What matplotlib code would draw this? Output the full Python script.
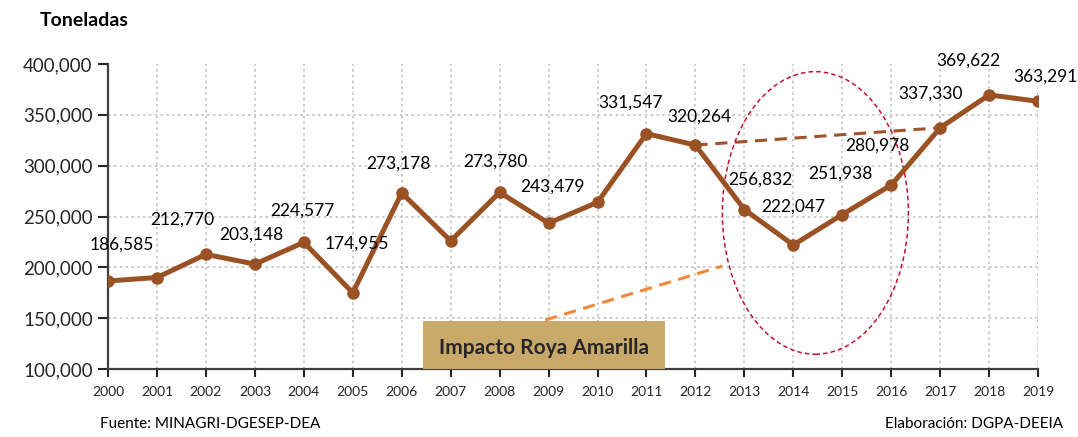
import matplotlib
matplotlib.use("Agg")
import matplotlib.pyplot as plt
from matplotlib.patches import Ellipse, Rectangle
from matplotlib.ticker import FuncFormatter

plt.rcParams['font.family'] = ['Lato', 'DejaVu Sans']

# data
years = list(range(2000, 2020))
production = [186585, 190000, 212770, 203148, 224577, 174955, 273178, 226000,
              273780, 243479, 264000, 331547, 320264, 256832, 222047, 251938,
              280978, 337330, 369622, 363291]
labelled = [True, False, True, True, True, True, True, False, True, True,
            False, True, True, True, True, True, True, True, True, True]
# label offsets in pixels (dx, dy) from the point
label_offsets = [(14, 28), (0, 0), (-24, 27), (-4, 22), (-1, 24), (4, 41),
                 (-3, 21), (0, 0), (-4, 23), (4, 29), (0, 0), (-16, 23),
                 (4, 20), (16, 22), (0, 30), (-2, 33), (-14, 31), (-10, 26),
                 (-21, 26), (7, 17)]
y_ticks = [100000, 150000, 200000, 250000, 300000, 350000, 400000]

line_color = '#9A5224'

fig = plt.figure(figsize=(10.78, 4.37), dpi=100)
ax = fig.add_axes([0.1002, 0.1556, 0.8628, 0.6979])

ax.plot(years, production, color=line_color, lw=3.6, marker='o', ms=8,
        solid_joinstyle='round', zorder=5)

for yr, val, show, (dx, dy) in zip(years, production, labelled, label_offsets):
    if show:
        ax.annotate(f'{val:,}', (yr, val), xytext=(dx, dy), textcoords='offset pixels',
                    ha='center', va='bottom', fontsize=12.5, color='#000000', zorder=6)

# trend and highlight annotations
ax.plot([2012, 2017], [production[12], production[17]], color='#A0522D',
        lw=2.2, ls=(0, (4, 2.5)), zorder=4)
ax.plot([2008.93, 2012.55], [148200, 201300], color='#F4873A',
        lw=2.2, ls=(0, (4, 2.5)), zorder=4)
ax.add_patch(Ellipse((2014.45, 253500), 3.8, 278000, fill=False,
                     edgecolor='#C8102E', lw=1.1, ls=(0, (3, 2)), zorder=4))
ax.add_patch(Rectangle((2006.44, 100000), 4.93, 47200, facecolor='#C9A96A',
                       edgecolor='none', zorder=3, clip_on=False))
ax.text(2008.9, 121000, 'Impacto Roya Amarilla', ha='center', va='center',
        fontsize=15, fontweight='bold', color='#262626', zorder=6)

ax.set_xlim(2000, 2019)
ax.set_ylim(100000, 400000)
ax.set_xticks(years)
ax.set_yticks(y_ticks)
ax.yaxis.set_major_formatter(FuncFormatter(lambda v, p: f'{int(v):,}'))
ax.tick_params(axis='x', labelsize=10, colors='#262626', direction='out', length=6, width=1.5, pad=6)
ax.tick_params(axis='y', labelsize=13.5, colors='#262626', direction='out', length=7, width=1.5, pad=4)

ax.grid(True, color='#C4C4C4', ls=(0, (1.5, 2)), lw=1.2)
ax.get_ygridlines()[-1].set_visible(False)
ax.set_axisbelow(True)

for s in ['top', 'right']:
    ax.spines[s].set_visible(False)
for s in ['left', 'bottom']:
    ax.spines[s].set_color('#404040')
    ax.spines[s].set_linewidth(1.6)

fig.text(0.037, 0.94, 'Toneladas', fontsize=14, fontweight='bold', color='#000000')
fig.text(0.093, 0.02, 'Fuente: MINAGRI-DGESEP-DEA', fontsize=11, color='#000000')
fig.text(0.986, 0.02, 'Elaboración: DGPA-DEEIA', fontsize=11, color='#000000', ha='right')

plt.savefig('out.png', dpi=100)
plt.close()
